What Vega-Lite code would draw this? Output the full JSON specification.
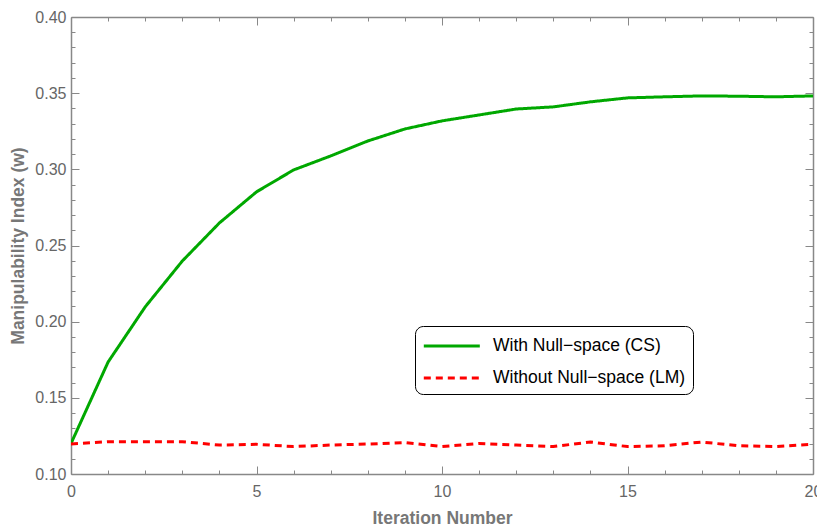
{
  "$schema": "https://vega.github.io/schema/vega-lite/v6.json",
  "width": 742,
  "height": 457,
  "autosize": {"type": "none"},
  "padding": {"left": 71, "top": 17, "right": 4, "bottom": 52},
  "config": {
    "font": "Liberation Sans",
    "view": {"stroke": null},
    "axis": {
      "grid": false,
      "domainColor": "#888888",
      "domainWidth": 1.5,
      "tickColor": "#888888",
      "tickWidth": 1,
      "labelColor": "#666666",
      "labelFontSize": 16,
      "labelOverlap": false,
      "labelBound": false,
      "labelFlush": false,
      "titleColor": "#777777",
      "titleFontSize": 17.5,
      "titleFontWeight": "bold"
    }
  },
  "data": {
    "values": [
      {"iter": 0, "w": 0.120, "series": "With Null\u2212space (CS)"},
      {"iter": 1, "w": 0.1735, "series": "With Null\u2212space (CS)"},
      {"iter": 2, "w": 0.2097, "series": "With Null\u2212space (CS)"},
      {"iter": 3, "w": 0.2398, "series": "With Null\u2212space (CS)"},
      {"iter": 4, "w": 0.2648, "series": "With Null\u2212space (CS)"},
      {"iter": 5, "w": 0.2852, "series": "With Null\u2212space (CS)"},
      {"iter": 6, "w": 0.2996, "series": "With Null\u2212space (CS)"},
      {"iter": 7, "w": 0.3088, "series": "With Null\u2212space (CS)"},
      {"iter": 8, "w": 0.3186, "series": "With Null\u2212space (CS)"},
      {"iter": 9, "w": 0.3265, "series": "With Null\u2212space (CS)"},
      {"iter": 10, "w": 0.3318, "series": "With Null\u2212space (CS)"},
      {"iter": 11, "w": 0.3357, "series": "With Null\u2212space (CS)"},
      {"iter": 12, "w": 0.3396, "series": "With Null\u2212space (CS)"},
      {"iter": 13, "w": 0.3410, "series": "With Null\u2212space (CS)"},
      {"iter": 14, "w": 0.3443, "series": "With Null\u2212space (CS)"},
      {"iter": 15, "w": 0.3469, "series": "With Null\u2212space (CS)"},
      {"iter": 16, "w": 0.3476, "series": "With Null\u2212space (CS)"},
      {"iter": 17, "w": 0.3482, "series": "With Null\u2212space (CS)"},
      {"iter": 18, "w": 0.3480, "series": "With Null\u2212space (CS)"},
      {"iter": 19, "w": 0.3476, "series": "With Null\u2212space (CS)"},
      {"iter": 20, "w": 0.3482, "series": "With Null\u2212space (CS)"},
      {"iter": 0, "w": 0.1197, "series": "Without Null\u2212space (LM)"},
      {"iter": 1, "w": 0.1212, "series": "Without Null\u2212space (LM)"},
      {"iter": 2, "w": 0.1212, "series": "Without Null\u2212space (LM)"},
      {"iter": 3, "w": 0.1212, "series": "Without Null\u2212space (LM)"},
      {"iter": 4, "w": 0.1190, "series": "Without Null\u2212space (LM)"},
      {"iter": 5, "w": 0.1195, "series": "Without Null\u2212space (LM)"},
      {"iter": 6, "w": 0.1180, "series": "Without Null\u2212space (LM)"},
      {"iter": 7, "w": 0.1190, "series": "Without Null\u2212space (LM)"},
      {"iter": 8, "w": 0.1197, "series": "Without Null\u2212space (LM)"},
      {"iter": 9, "w": 0.1206, "series": "Without Null\u2212space (LM)"},
      {"iter": 10, "w": 0.1180, "series": "Without Null\u2212space (LM)"},
      {"iter": 11, "w": 0.1200, "series": "Without Null\u2212space (LM)"},
      {"iter": 12, "w": 0.1190, "series": "Without Null\u2212space (LM)"},
      {"iter": 13, "w": 0.1180, "series": "Without Null\u2212space (LM)"},
      {"iter": 14, "w": 0.1210, "series": "Without Null\u2212space (LM)"},
      {"iter": 15, "w": 0.1180, "series": "Without Null\u2212space (LM)"},
      {"iter": 16, "w": 0.1185, "series": "Without Null\u2212space (LM)"},
      {"iter": 17, "w": 0.1210, "series": "Without Null\u2212space (LM)"},
      {"iter": 18, "w": 0.1185, "series": "Without Null\u2212space (LM)"},
      {"iter": 19, "w": 0.1180, "series": "Without Null\u2212space (LM)"},
      {"iter": 20, "w": 0.1195, "series": "Without Null\u2212space (LM)"}
    ]
  },
  "layer": [
    {
      "mark": {"type": "line", "interpolate": "linear", "strokeWidth": 3, "clip": true},
      "encoding": {
        "x": {
          "field": "iter", "type": "quantitative",
          "scale": {"domain": [0, 20], "nice": false, "zero": false},
          "axis": {
            "orient": "bottom",
            "values": [0,1,2,3,4,5,6,7,8,9,10,11,12,13,14,15,16,17,18,19,20],
            "labelExpr": "datum.value % 5 == 0 ? datum.label : ''",
            "tickSize": {"condition": {"test": "datum.value % 5 == 0", "value": -8}, "value": -4},
            "labelPadding": 17,
            "title": "Iteration Number",
            "titlePadding": 6
          }
        },
        "y": {
          "field": "w", "type": "quantitative",
          "scale": {"domain": [0.1, 0.4], "nice": false, "zero": false},
          "axis": {
            "orient": "left",
            "values": [0.10,0.11,0.12,0.13,0.14,0.15,0.16,0.17,0.18,0.19,0.20,0.21,0.22,0.23,0.24,0.25,0.26,0.27,0.28,0.29,0.30,0.31,0.32,0.33,0.34,0.35,0.36,0.37,0.38,0.39,0.40],
            "labelExpr": "abs(datum.value*20 - round(datum.value*20)) < 1e-6 ? format(datum.value, '.2f') : ''",
            "tickSize": {"condition": {"test": "abs(datum.value*20 - round(datum.value*20)) < 1e-6", "value": -8}, "value": -4},
            "labelPadding": 13,
            "title": "Manipulability Index (w)",
            "titlePadding": 7
          }
        },
        "color": {
          "field": "series", "type": "nominal",
          "scale": {"domain": ["With Null\u2212space (CS)", "Without Null\u2212space (LM)"], "range": ["#00A800", "#FF0000"]},
          "legend": {
            "title": null,
            "orient": "none",
            "legendX": 344,
            "legendY": 309,
            "symbolType": "M-1,0H4",
            "symbolSize": 502,
            "symbolStrokeWidth": 3,
            "labelFontSize": 17.5,
            "labelColor": "#000000",
            "labelLimit": 400,
            "labelOffset": 45,
            "rowPadding": 10,
            "padding": 7,
            "strokeColor": "#000000",
            "fillColor": "#ffffff",
            "cornerRadius": 8
          }
        },
        "strokeDash": {
          "field": "series", "type": "nominal",
          "scale": {"domain": ["With Null\u2212space (CS)", "Without Null\u2212space (LM)"], "range": [[1, 0], [7, 5]]},
          "legend": {
            "title": null,
            "orient": "none",
            "legendX": 344,
            "legendY": 309,
            "symbolType": "M-1,0H4",
            "symbolSize": 502,
            "symbolStrokeWidth": 3,
            "labelFontSize": 17.5,
            "labelColor": "#000000",
            "labelLimit": 400,
            "labelOffset": 45,
            "rowPadding": 10,
            "padding": 7,
            "strokeColor": "#000000",
            "fillColor": "#ffffff",
            "cornerRadius": 8
          }
        }
      }
    },
    {
      "mark": {"type": "point", "opacity": 0},
      "encoding": {
        "x": {
          "field": "iter", "type": "quantitative",
          "axis": {
            "orient": "top",
            "values": [0,1,2,3,4,5,6,7,8,9,10,11,12,13,14,15,16,17,18,19,20],
            "labels": false,
            "title": null,
            "tickSize": {"condition": {"test": "datum.value % 5 == 0", "value": -8}, "value": -4}
          }
        },
        "y": {
          "field": "w", "type": "quantitative",
          "axis": {
            "orient": "right",
            "values": [0.10,0.11,0.12,0.13,0.14,0.15,0.16,0.17,0.18,0.19,0.20,0.21,0.22,0.23,0.24,0.25,0.26,0.27,0.28,0.29,0.30,0.31,0.32,0.33,0.34,0.35,0.36,0.37,0.38,0.39,0.40],
            "labels": false,
            "title": null,
            "tickSize": {"condition": {"test": "abs(datum.value*20 - round(datum.value*20)) < 1e-6", "value": -8}, "value": -4}
          }
        }
      }
    }
  ],
  "resolve": {"axis": {"x": "independent", "y": "independent"}}
}
